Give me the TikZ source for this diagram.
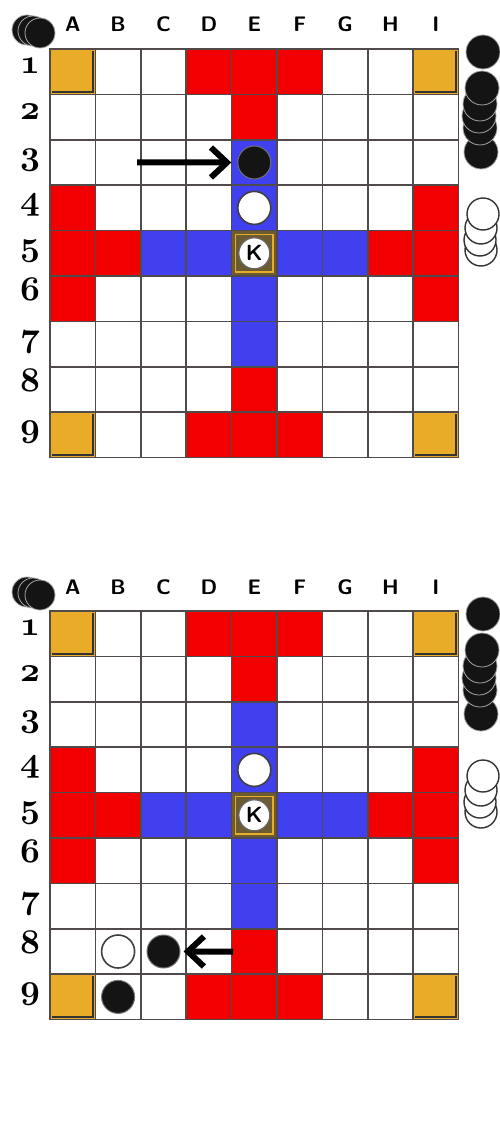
\documentclass[tikz,border=0pt]{standalone}
\usepackage{tikz}
\usetikzlibrary{arrows.meta}

\definecolor{tafred}{RGB}{242,0,0}
\definecolor{tafblue}{RGB}{64,64,238}
\definecolor{taforange}{RGB}{232,172,40}
\definecolor{tafthrone}{RGB}{108,90,48}
\definecolor{tafgrid}{RGB}{80,74,74}

\newcommand{\osfig}[1]{{\fontsize{16}{17}\selectfont\boldmath$\mathnormal{#1}$}}

\tikzset{
  cell/.style={draw=tafgrid, line width=0.85pt, fill=white,
    minimum size=22.7pt, inner sep=0pt, outer sep=0pt},
  collabel/.style={anchor=base, font=\sffamily\bfseries\fontsize{10.5}{12}\selectfont},
  rowlabel/.style={anchor=base},
  tileshade/.style={draw=black!80, line width=1pt},
  blackpiece/.style={circle, fill=black!92, draw=black!55, line width=0.5pt,
    minimum size=16.5pt, inner sep=0pt},
  whitepiece/.style={circle, fill=white, draw=black!75, line width=0.8pt,
    minimum size=16.5pt, inner sep=0pt},
  kingpiece/.style={circle, fill=white, draw=black!60, line width=0.6pt,
    minimum size=15.5pt, inner sep=0pt, font=\sffamily\bfseries\fontsize{11}{12}\selectfont},
  stackblack/.style={fill=black!92, draw=gray!70, line width=0.4pt},
  stackwhite/.style={fill=white, draw=black!80, line width=0.7pt},
  movearrow/.style={line width=3pt, -{Straight Barb[length=8pt,width=15pt]}}
}

% #1 = name prefix, #2 = top edge of the grid
\newcommand{\tafboard}[2]{%
  \foreach \c [count=\i] in {A,...,I}{
    \node[collabel] (#1-col-\c) at ({50+45.4*(\i-0.5)},{#2-17}) {\c};
    \foreach \r in {1,...,9}
      \node[cell] (#1-\c\r) at ({50+45.4*(\i-0.5)},{#2+45.4*(\r-0.5)}) {};
  }
  \foreach \r in {1,...,9}
    \node[rowlabel] (#1-row-\r) at (30,{#2+45.4*(\r-0.5)+2}) {\osfig{\r}};
  \foreach \s in {D1,E1,F1,E2,A4,I4,A5,B5,H5,I5,A6,I6,E8,D9,E9,F9}
    \node[cell, fill=tafred] (#1-red-\s) at (#1-\s) {};
  \foreach \s in {E3,E4,C5,D5,F5,G5,E6,E7}
    \node[cell, fill=tafblue] (#1-blue-\s) at (#1-\s) {};
  \foreach \s in {A1,I1,A9,I9}{
    \node[cell, fill=taforange] (#1-corner-\s) at (#1-\s) {};
    \draw[tileshade] ([xshift=1pt,yshift=1.3pt]#1-\s.south west)
      -- ([xshift=-1.3pt,yshift=1.3pt]#1-\s.south east)
      -- ([xshift=-1.3pt,yshift=-1pt]#1-\s.north east);
  }
  % throne
  \node[cell, fill=tafthrone] (#1-throne) at (#1-E5) {};
  \draw[taforange, line width=0.8pt] ([shift={(2pt,2pt)}]#1-throne.south west)
    rectangle ([shift={(-2pt,-2pt)}]#1-throne.north east);
  \node[kingpiece] (#1-king) at (#1-E5) {K};
  % pieces off the board
  \foreach \x/\y in {27/30,33/31,40/33}
    \filldraw[stackblack] (\x,{#2-49+\y}) circle (15);
  \foreach \x/\y in {481/152,480/128,479/116,480/104,482/88,483/52}
    \filldraw[stackblack] (\x,{#2-49+\y}) circle (17);
  \foreach \x/\y in {481/250,480/240,481/228,483/214}
    \filldraw[stackwhite] (\x,{#2-49+\y}) circle (16);
}

\begin{document}
\begin{tikzpicture}[x=0.5pt, y=-0.5pt]
  \fill[white] (0,0) rectangle (499,1123);
  \useasboundingbox (0,0) rectangle (499,1123);

  % before the move
  \tafboard{t}{49}
  \node[blackpiece] (t-p1) at (t-E3) {};
  \node[whitepiece] (t-p2) at (t-E4) {};
  \coordinate (t-from) at (137,162.5);
  \draw[movearrow, shorten >=3pt] (t-from) -- (t-p1.west);

  % after the move
  \tafboard{b}{611}
  \node[whitepiece] (b-p1) at (b-E4) {};
  \node[whitepiece] (b-p2) at (b-B8) {};
  \node[blackpiece] (b-p3) at (b-C8) {};
  \node[blackpiece] (b-p4) at (b-B9) {};
  \coordinate (b-from) at (233,951.5);
  \draw[movearrow, shorten >=1.5pt] (b-from) -- (b-p3.east);
\end{tikzpicture}
\end{document}
